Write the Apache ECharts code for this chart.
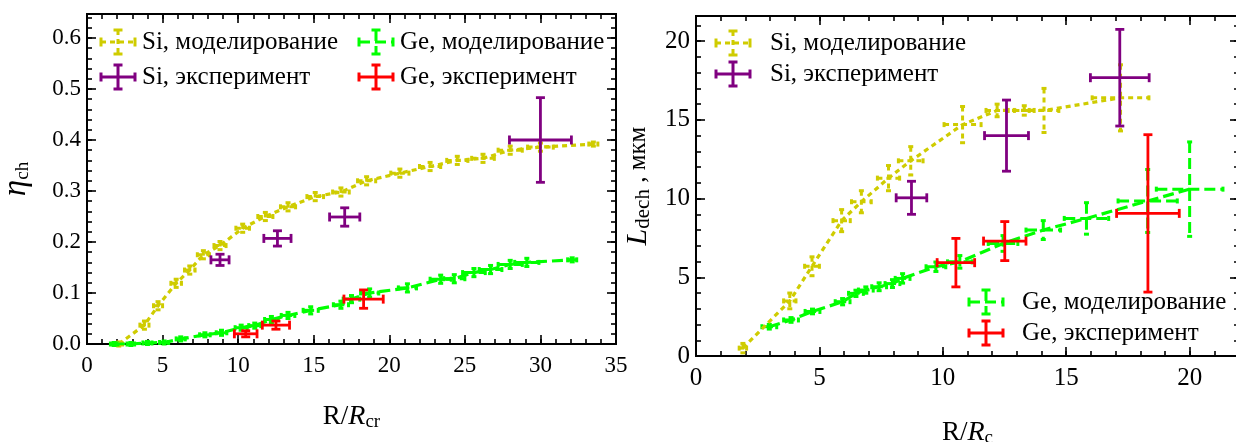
<!DOCTYPE html>
<html><head><meta charset="utf-8">
<script src="https://cdn.jsdelivr.net/npm/echarts/dist/echarts.min.js"></script>
<style>html,body{margin:0;padding:0;background:#fff}#c{width:1236px;height:442px}</style>
</head><body><div id="c"></div>
<script>
// ---------- DATA: [x, y, xErr, yErr] ----------
// Left panel: eta_ch vs R/R_cr
const leftSiSim = [
  [2.1,0.000,0.25,0.004],[3.8,0.037,0.3,0.008],[4.7,0.075,0.3,0.008],[5.9,0.119,0.35,0.008],
  [6.8,0.145,0.35,0.008],[7.7,0.175,0.4,0.008],[8.8,0.193,0.4,0.008],[10.3,0.227,0.45,0.008],
  [11.8,0.250,0.5,0.008],[13.3,0.269,0.5,0.008],[15.1,0.289,0.55,0.008],[16.8,0.298,0.55,0.008],
  [18.5,0.320,0.6,0.008],[20.7,0.335,0.6,0.008],[22.7,0.348,0.7,0.008],[24.5,0.360,0.7,0.008],
  [26.2,0.364,0.75,0.008],[28.0,0.380,0.8,0.008],[30.0,0.386,0.85,0.008],[33.5,0.392,0.3,0.004]
];
const leftGeSim = [
  [1.8,0.000,0.25,0.003],[2.9,0.000,0.25,0.003],[4.0,0.002,0.3,0.003],[5.1,0.003,0.3,0.003],
  [6.2,0.010,0.3,0.004],[7.8,0.018,0.35,0.004],[8.9,0.022,0.35,0.005],[10.2,0.032,0.4,0.005],
  [11.1,0.036,0.4,0.005],[12.2,0.048,0.45,0.006],[13.3,0.056,0.45,0.006],[14.8,0.066,0.5,0.007],
  [16.8,0.077,0.5,0.007],[17.5,0.088,0.55,0.007],[18.7,0.100,0.6,0.008],[21.2,0.110,0.6,0.008],
  [23.4,0.127,0.7,0.008],[24.3,0.128,0.7,0.008],[25.6,0.140,0.75,0.008],[26.7,0.146,0.75,0.008],
  [28.0,0.156,0.8,0.008],[29.1,0.160,0.8,0.008],[32.1,0.165,0.3,0.004]
];
const leftSiExp = [[8.8,0.165,0.6,0.011],[12.6,0.207,0.9,0.015],[17.05,0.249,1.0,0.018],[30.0,0.400,2.05,0.083]];
const leftGeExp = [[10.5,0.020,0.75,0.006],[12.5,0.037,0.9,0.008],[18.3,0.088,1.3,0.018]];

// Right panel: L_dech (мкм) vs R/R_c
const rightSiSim = [
  [1.9,0.5,0.15,0.3],[3.8,3.5,0.25,0.5],[4.7,5.7,0.3,0.6],[5.9,8.6,0.35,0.7],[6.7,9.8,0.4,0.7],
  [7.8,11.3,0.45,0.8],[8.7,12.4,0.5,0.9],[10.8,14.7,0.75,1.15],[12.2,15.6,0.45,0.4],
  [13.3,15.6,0.4,0.3],[14.1,15.6,0.6,1.4],[17.2,16.4,1.15,2.1]
];
const rightGeSim = [
  [2.97,1.86,0.3,0.15],[3.85,2.29,0.3,0.15],[4.72,2.83,0.3,0.15],[5.94,3.45,0.3,0.2],
  [6.48,3.98,0.3,0.2],[6.88,4.19,0.3,0.2],[7.42,4.40,0.3,0.25],[7.96,4.60,0.3,0.25],
  [8.37,4.93,0.3,0.3],[9.72,5.67,0.4,0.3],[10.69,5.98,0.5,0.4],[12.44,7.15,0.6,0.5],
  [14.07,8.00,0.7,0.6],[15.82,8.74,0.9,1.0],[18.3,9.85,1.2,2.0],[20.0,10.6,1.35,3.0]
];
const rightSiExp = [[8.73,10.05,0.62,1.05],[12.58,14.0,0.89,2.26],[17.17,17.68,1.19,3.07]];
const rightGeExp = [[10.53,5.93,0.76,1.54],[12.51,7.3,0.86,1.24],[18.31,9.06,1.27,5.0]];

// Axis tick settings
const leftX = {min:0, max:35, major:5, minor:1};
const leftY = {min:0, max:0.647, major:0.1, minor:0.02};
const rightX = {min:0, max:22, major:5, minor:1};
const rightY = {min:0, max:21.6, major:5, minor:1};

// Legend labels
const legendSiSim = 'Si, моделирование';
const legendSiExp = 'Si, эксперимент';
const legendGeSim = 'Ge, моделирование';
const legendGeExp = 'Ge, эксперимент';

// ---------- STYLE ----------
const YEL = '#cfcc00', GRN = '#00ff00', PUR = '#800080', RED = '#ff0000';
const FONT = 'Liberation Serif';
const DOT = [5,4], DASH = [11,5];

function isMult(v, step){ const r = v/step; return Math.abs(r - Math.round(r)) < 1e-6; }

function axis(kind, grid, pos, cfg, isMajor, labelFmt, fontSize, extra){
  const o = {
    type:'value', gridIndex:grid, position:pos, min:cfg.min, max:cfg.max,
    interval: isMajor ? cfg.major : cfg.minor,
    splitLine:{show:false},
    axisLine:{show:true, onZero:false, lineStyle:{color:'#000', width:2}},
    axisTick:{show:true, inside:true, length: isMajor ? 9 : 5, lineStyle:{color:'#000', width:1.6}},
    axisLabel:{show:false},
    silent:true
  };
  if (labelFmt){
    o.axisLabel = {show:true, color:'#000', fontFamily:FONT, fontSize:fontSize, margin: kind==='x'?10:6,
      formatter: v => isMult(v, cfg.major) ? labelFmt(v) : ''};
  }
  return Object.assign(o, extra||{});
}
const fmt1 = v => v.toFixed(1);
const fmt0 = v => String(Math.round(v));

const richX = {
  n:{fontFamily:FONT, fontSize:27, color:'#000', lineHeight:30},
  i:{fontFamily:FONT, fontSize:28, fontStyle:'italic', color:'#000', lineHeight:30},
  s:{fontFamily:FONT, fontSize:19, color:'#000', verticalAlign:'bottom', lineHeight:17}
};
const richEta = {
  ib:{fontFamily:FONT, fontSize:33, fontStyle:'italic', color:'#000', lineHeight:34},
  s:{fontFamily:FONT, fontSize:19, color:'#000', verticalAlign:'bottom', lineHeight:18}
};
const richL = {
  i:{fontFamily:FONT, fontSize:30, fontStyle:'italic', color:'#000', lineHeight:32},
  s:{fontFamily:FONT, fontSize:21, color:'#000', verticalAlign:'bottom', lineHeight:19},
  m:{fontFamily:FONT, fontSize:25, color:'#000', lineHeight:32}
};

const xAxes = [
  axis('x',0,'bottom',leftX,true,fmt0,23,{name:'{n|R/}{i|R}{s|cr}', nameLocation:'middle', nameGap:58, nameTextStyle:{rich:richX}}),
  axis('x',0,'bottom',leftX,false),
  axis('x',0,'top',leftX,true),
  axis('x',0,'top',leftX,false),
  axis('x',1,'bottom',rightX,true,fmt0,25,{name:'{n|R/}{i|R}{s|c}', nameLocation:'middle', nameGap:62, nameTextStyle:{rich:richX}}),
  axis('x',1,'bottom',rightX,false),
  axis('x',1,'top',rightX,true),
  axis('x',1,'top',rightX,false)
];
const yAxes = [
  axis('y',0,'left',leftY,true,fmt1,23,{name:'{ib|η}{s|ch}', nameLocation:'middle', nameGap:54, nameTextStyle:{rich:richEta}}),
  axis('y',0,'left',leftY,false),
  axis('y',0,'right',leftY,true),
  axis('y',0,'right',leftY,false),
  axis('y',1,'left',rightY,true,fmt0,25,{name:'{i|L}{s|dech}{m| , мкм}', nameLocation:'middle', nameGap:42, nameTextStyle:{rich:richL}}),
  axis('y',1,'left',rightY,false),
  axis('y',1,'right',rightY,true),
  axis('y',1,'right',rightY,false)
];

function errRender(color, dash, width, cap){
  return function(params, api){
    const x = api.value(0), y = api.value(1), ex = api.value(2), ey = api.value(3);
    const l = api.coord([x-ex, y]), r = api.coord([x+ex, y]);
    const t = api.coord([x, y+ey]), b = api.coord([x, y-ey]);
    const st = {stroke:color, lineWidth:width, lineDash:dash || null, fill:null};
    const cs = {stroke:color, lineWidth:width, fill:null};
    return {type:'group', children:[
      {type:'line', shape:{x1:l[0],y1:l[1],x2:r[0],y2:r[1]}, style:st},
      {type:'line', shape:{x1:t[0],y1:t[1],x2:b[0],y2:b[1]}, style:st},
      {type:'line', shape:{x1:l[0],y1:l[1]-cap,x2:l[0],y2:l[1]+cap}, style:cs},
      {type:'line', shape:{x1:r[0],y1:r[1]-cap,x2:r[0],y2:r[1]+cap}, style:cs},
      {type:'line', shape:{x1:t[0]-cap,y1:t[1],x2:t[0]+cap,y2:t[1]}, style:cs},
      {type:'line', shape:{x1:b[0]-cap,y1:b[1],x2:b[0]+cap,y2:b[1]}, style:cs}
    ]};
  };
}
function errSeries(data, grid, color, dash, width, cap, z){
  return {type:'custom', xAxisIndex:grid*4, yAxisIndex:grid*4, data:data, clip:false, silent:true, z:z,
    renderItem: errRender(color, dash, width, cap), encode:{x:0, y:1}};
}
function lineSeries(data, grid, color, dash, z){
  return {type:'line', xAxisIndex:grid*4, yAxisIndex:grid*4, data:data.map(d=>[d[0],d[1]]),
    symbol:'none', silent:true, z:z, lineStyle:{color:color, width:3.2, type:dash}, animation:false};
}

function legendEntry(cx, cy, color, dash, label, tx, fs){
  const st = {stroke:color, lineWidth: 3, lineDash:dash||null};
  const cs = {stroke:color, lineWidth: 3};
  const hw = 17, hh = 12, c = 4.5;
  return {type:'group', silent:true, children:[
    {type:'line', shape:{x1:cx-hw,y1:cy,x2:cx+hw,y2:cy}, style:st},
    {type:'line', shape:{x1:cx,y1:cy-hh,x2:cx,y2:cy+hh}, style:st},
    {type:'line', shape:{x1:cx-hw,y1:cy-c,x2:cx-hw,y2:cy+c}, style:cs},
    {type:'line', shape:{x1:cx+hw,y1:cy-c,x2:cx+hw,y2:cy+c}, style:cs},
    {type:'line', shape:{x1:cx-c,y1:cy-hh,x2:cx+c,y2:cy-hh}, style:cs},
    {type:'line', shape:{x1:cx-c,y1:cy+hh,x2:cx+c,y2:cy+hh}, style:cs},
    {type:'text', x:tx, y:cy, style:{text:label, fontFamily:FONT, fontSize:fs, fill:'#000',
      textAlign:'left', textVerticalAlign:'middle', align:'left', verticalAlign:'middle'}}
  ]};
}

const chart = echarts.init(document.getElementById('c'), null, {renderer:'canvas', width:1236, height:442});
chart.setOption({
  animation:false,
  backgroundColor:'#fff',
  textStyle:{fontFamily:FONT},
  grid:[
    {left:87, top:14, width:529, height:330, outerBoundsMode:'none', containLabel:false},
    {left:696, top:16, width:543, height:340, outerBoundsMode:'none', containLabel:false}
  ],
  xAxis:xAxes,
  yAxis:yAxes,
  series:[
    lineSeries(leftSiSim,0,YEL,DOT,2), errSeries(leftSiSim,0,YEL,DOT,3,2.5,2),
    lineSeries(leftGeSim,0,GRN,DASH,2), errSeries(leftGeSim,0,GRN,DASH,3,2.5,2),
    errSeries(leftSiExp,0,PUR,null,2.8,4.5,5), errSeries(leftGeExp,0,RED,null,2.8,4.5,5),
    lineSeries(rightSiSim,1,YEL,DOT,2), errSeries(rightSiSim,1,YEL,DOT,3,2.5,2),
    lineSeries(rightGeSim,1,GRN,DASH,2), errSeries(rightGeSim,1,GRN,DASH,3,2.5,2),
    errSeries(rightSiExp,1,PUR,null,2.8,4.5,5), errSeries(rightGeExp,1,RED,null,2.8,4.5,5)
  ],
  graphic:[
    legendEntry(118,42,YEL,DOT,legendSiSim,142,25),
    legendEntry(118,77,PUR,null,legendSiExp,142,25),
    legendEntry(376,42,GRN,DASH,legendGeSim,400,25),
    legendEntry(376,77,RED,null,legendGeExp,400,25),
    legendEntry(733,43,YEL,DOT,legendSiSim,770,25),
    legendEntry(733,74,PUR,null,legendSiExp,770,25),
    legendEntry(986,302,GRN,DASH,legendGeSim,1022,25),
    legendEntry(986,333,RED,null,legendGeExp,1022,25)
  ]
});
</script></body></html>
